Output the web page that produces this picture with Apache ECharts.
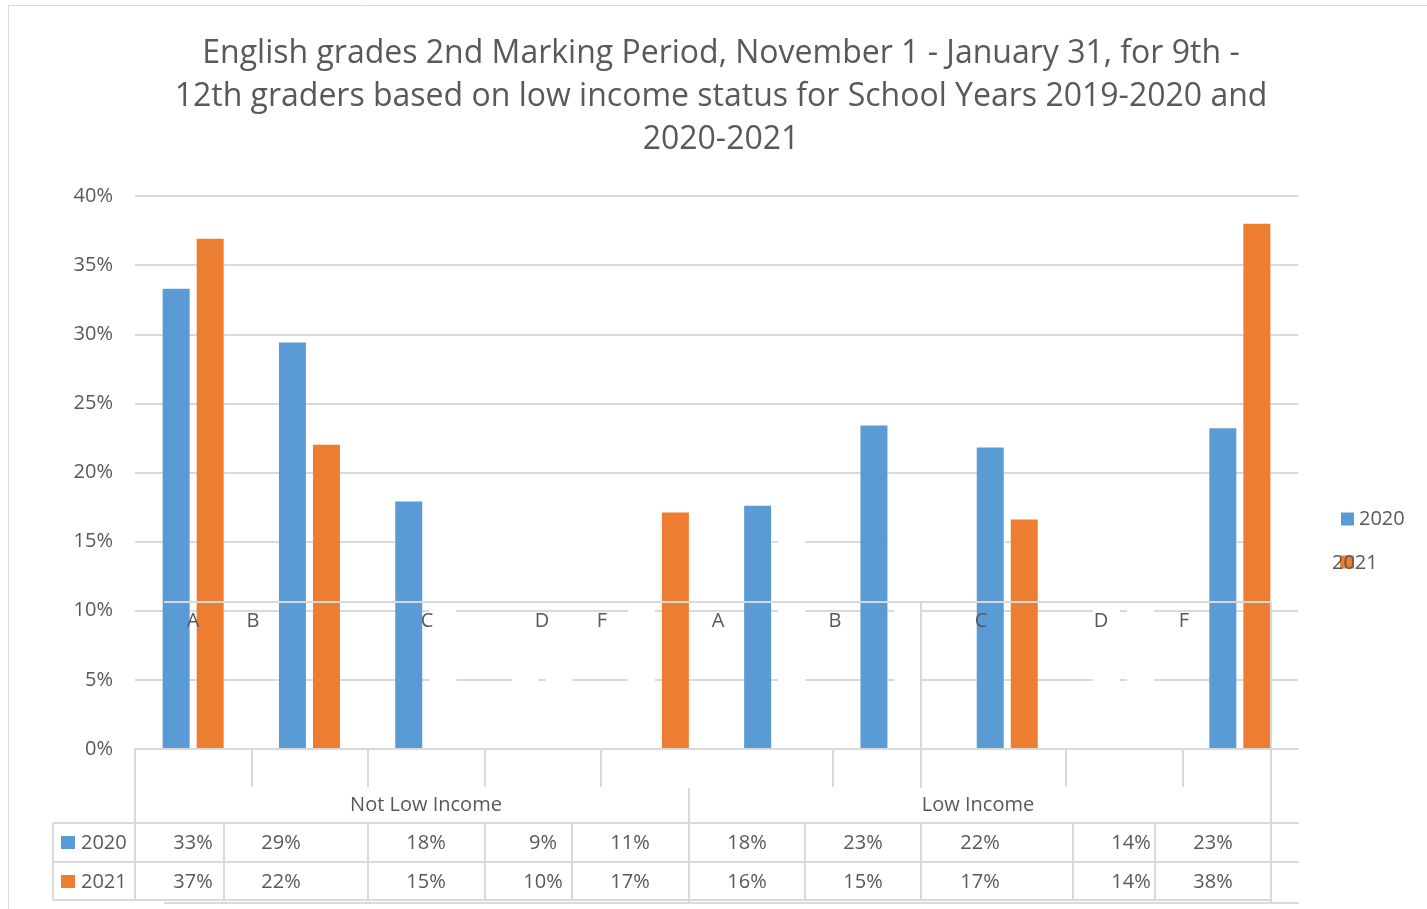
<!DOCTYPE html>
<html>
<head>
<meta charset="utf-8">
<title>English grades 2nd Marking Period</title>
<script src="https://cdn.jsdelivr.net/npm/echarts@6.0.0/dist/echarts.min.js"></script>
<style>
	html, body { margin: 0; padding: 0; background: #fff; }
	#chart { width: 1427px; height: 909px; }
</style>
</head>
<body>
<div id="chart"></div>
<script>
	var grades = ['A', 'B', 'C', 'D', 'F', 'A', 'B', 'C', 'D', 'F'];
	var incomeGroups = ['Not Low Income', 'Low Income'];
	var years = ['2020', '2021'];
	var share2020 = [33.3, 29.4, 17.9, 9.1, 11.2, 17.6, 23.4, 21.8, 14.1, 23.2];
	var share2021 = [36.9, 22.0, 15.1, 9.7, 17.1, 16.2, 15.2, 16.6, 13.9, 38.0];
	// bars that come out blank (white) in the original picture
	var blank2020 = [3, 4, 8];
	var blank2021 = [2, 3, 5, 6, 8];
	var yTicks = [0, 5, 10, 15, 20, 25, 30, 35, 40];

	// layout of the data table under the plot (pixels)
	var gradeLabelX = [193, 253, 427, 542, 602, 718, 835, 981, 1101, 1184];
	var cellX = [193, 281, 426, 543, 630, 747, 863, 980, 1131, 1213];
	var groupX = [426, 978];
	var rowY = [843, 882];
	var cellLines = [53, 135, 224, 368, 485, 572, 689, 805, 921, 1073, 1155, 1271];
	var tickX = [252, 368, 485, 601, 833, 921, 1066, 1183];

	var colors = ['#5B9BD5', '#ED7D31'];
	var FONT = '"Open Sans", sans-serif';
	var GREY = '#d9d9d9';
	var TXT = '#595959';

	function line(x1, y1, x2, y2, z) {
		return {
			type: 'line', silent: true, z: z || 5,
			shape: { x1: x1, y1: y1, x2: x2, y2: y2 },
			style: { stroke: GREY, lineWidth: 2 }
		};
	}
	function label(txt, x, y, align) {
		return {
			type: 'text', silent: true, z: 20, x: x, y: y,
			style: {
				text: txt, fill: TXT, font: '20px ' + FONT,
				align: align || 'center', verticalAlign: 'middle',
				textAlign: align || 'center', textVerticalAlign: 'middle'
			}
		};
	}
	function barData(values, blanks) {
		return values.map(function(v, i) {
			if (blanks.indexOf(i) >= 0) {
				return { value: v, itemStyle: { color: '#fff' } };
			}
			return v;
		});
	}

	var graphics = [];
	// frame of the chart
	graphics.push({ type: 'rect', silent: true, z: 0, shape: { x: 8.5, y: 5.5, width: 1440, height: 920 },
		style: { fill: 'none', stroke: GREY, lineWidth: 1 } });
	// the 15% gridline is missing over most of the right part
	[[397, 772], [888, 1005], [1011, 1237], [1244, 1300]].forEach(function(s) {
		graphics.push({ type: 'rect', silent: true, z: 1, shape: { x: s[0], y: 538, width: s[1] - s[0], height: 7 },
			style: { fill: '#fff' } });
	});
	// table lines
	graphics.push(line(53, 823, 1299, 823));
	graphics.push(line(53, 862, 1299, 862));
	graphics.push(line(53, 900, 1271, 900));
	graphics.push(line(164, 903, 1299, 903));
	graphics.push(line(135, 749, 135, 900));
	graphics.push(line(689, 788, 689, 903));
	tickX.forEach(function(x) { graphics.push(line(x, 749, x, 787)); });
	cellLines.forEach(function(x) { graphics.push(line(x, 823, x, 900)); });
	// stray table border drawn across the bars
	graphics.push(line(164, 602, 1271, 602, 15));
	graphics.push(line(921, 602, 921, 788, 15));
	graphics.push(line(1271, 602, 1271, 903, 15));

	grades.forEach(function(g, i) { graphics.push(label(g, gradeLabelX[i], 621)); });
	incomeGroups.forEach(function(g, i) { graphics.push(label(g, groupX[i], 805)); });
	[share2020, share2021].forEach(function(vals, r) {
		graphics.push({ type: 'rect', silent: true, z: 20, shape: { x: 61, y: rowY[r] - 7, width: 14, height: 13 },
			style: { fill: colors[r] } });
		graphics.push(label(years[r], 81, rowY[r], 'left'));
		vals.forEach(function(v, i) { graphics.push(label(Math.round(v) + '%', cellX[i], rowY[r])); });
	});
	// the 2021 legend name sits on top of its own key
	graphics.push(label(years[1], 1332, 563, 'left'));

	var mychart = echarts.init(document.getElementById('chart'));
	var option = {
		animation: false,
		backgroundColor: '#fff',
		title: {
			text: 'English grades 2nd Marking Period, November 1 - January 31, for 9th -\n12th graders based on low income status for School Years 2019-2020 and\n2020-2021',
			left: 721,
			top: 32,
			padding: 0,
			textAlign: 'center',
			textStyle: { fontFamily: FONT, fontSize: 32, fontWeight: 'normal', color: TXT, lineHeight: 43 }
		},
		legend: [{
			data: [years[0]], left: 1336, top: 504, icon: 'rect', itemWidth: 13, itemHeight: 13,
			textStyle: { fontFamily: FONT, fontSize: 20, color: TXT }
		}, {
			data: [years[1]], left: 1335, top: 547, icon: 'rect', itemWidth: 14, itemHeight: 13,
			formatter: function() { return ' '; },
			textStyle: { fontFamily: FONT, fontSize: 20, color: TXT }
		}],
		grid: { left: 135, right: 129, top: 196, bottom: 160 },
		xAxis: {
			type: 'category',
			data: grades,
			z: 3,
			axisLine: { lineStyle: { color: GREY, width: 2 } },
			axisTick: { show: false },
			axisLabel: { show: false }
		},
		yAxis: {
			type: 'value',
			min: yTicks[0],
			max: yTicks[yTicks.length - 1],
			interval: yTicks[1] - yTicks[0],
			axisLine: { show: false },
			axisTick: { show: false },
			axisLabel: { formatter: '{value}%', color: TXT, fontFamily: FONT, fontSize: 20, margin: 22 },
			splitLine: { lineStyle: { color: GREY, width: 2 } }
		},
		series: [{
			name: years[0], type: 'bar', barWidth: 27, barGap: '26%',
			itemStyle: { color: colors[0] },
			data: barData(share2020, blank2020)
		}, {
			name: years[1], type: 'bar', barWidth: 27, barGap: '26%',
			itemStyle: { color: colors[1] },
			data: barData(share2021, blank2021)
		}],
		graphic: { elements: graphics }
	};
	mychart.setOption(option);
</script>
</body>
</html>
